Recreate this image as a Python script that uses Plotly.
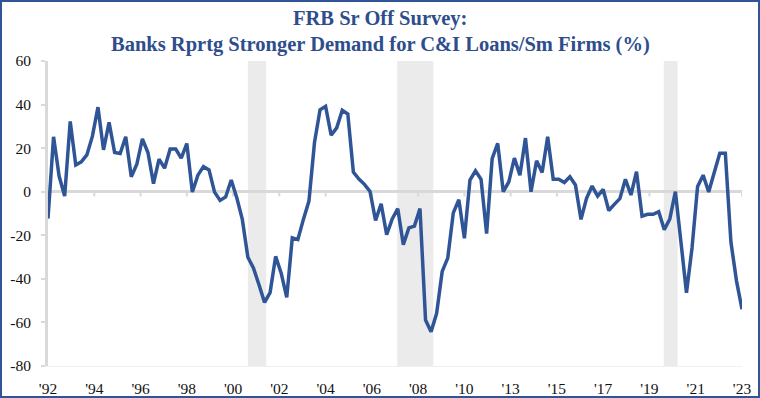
import plotly.graph_objects as go

# Net % of banks reporting stronger demand for C&I loans from small firms, quarterly 1992Q1 .. 2023Q2
demand = [
    -12.3, 25.2, 7.2, -2.0, 32.3, 12.3, 13.7, 16.9, 25.5, 38.8,
    19.2, 31.8, 18.0, 17.5, 25.2, 6.9, 12.6, 24.2, 18.0, 3.7,
    15.0, 10.8, 19.6, 19.6, 15.4, 22.1, -0.1, 7.6, 11.5, 10.0,
    -0.2, -4.0, -2.4, 5.4, -2.8, -12.7, -30.1, -35.0, -42.7, -50.8,
    -46.3, -29.7, -37.4, -48.5, -21.2, -22.0, -12.7, -4.3, 22.6, 37.6,
    39.2, 25.9, 29.3, 37.4, 35.7, 9.0, 5.8, 3.4, 0.1, -13.2,
    -5.5, -19.7, -12.5, -7.8, -24.3, -16.6, -15.8, -7.7, -58.9, -64.3,
    -55.8, -36.6, -30.5, -9.7, -3.7, -21.4, 5.3, 9.6, 5.7, -19.2,
    15.2, 22.2, 0.0, 4.5, 15.4, 7.6, 24.6, 0.0, 14.2, 8.8,
    25.2, 5.7, 5.7, 4.2, 6.9, 3.1, -12.7, -3.0, 2.6, -2.0,
    1.1, -8.6, -5.8, -3.2, 5.7, -1.5, 9.2, -11.2, -10.4, -10.4,
    -9.2, -17.4, -12.5, 0.0, -23.0, -46.4, -25.8, 2.4, 7.6, -0.1,
    8.8, 17.7, 17.7, -23.0, -40.8, -53.9,
]
quarter_index = list(range(len(demand)))

# Axis labels (one label every 25 months, i.e. 25/3 quarters)
tick_labels = ["'92", "'94", "'96", "'98", "'00", "'02", "'04", "'06", "'08", "'10",
               "'13", "'15", "'17", "'19", "'21", "'23"]
tick_step_quarters = 25 / 3
tick_positions = [i * tick_step_quarters for i in range(len(tick_labels))]

y_ticks = [60, 40, 20, 0, -20, -40, -60, -80]

# Recessions (in quarter-index units)
rec_start = [36.0, 62.9, 110.9]
rec_end = [39.3, 69.4, 113.4]

title_lines = ["FRB Sr Off Survey:", "Banks Rprtg Stronger Demand for C&I Loans/Sm Firms (%)"]

W, H = 760, 398
L, R, T, B = 48, 18, 61, 32
pw, ph = W - L - R, H - T - B

LINE_BLUE = "#2f5597"
TITLE_BLUE = "#2e4d8c"
GRAY = "#d9d9d9"
SERIF = "Liberation Serif"

px = lambda v: (v - L) / pw
py = lambda v: (H - B - v) / ph

fig = go.Figure()
fig.add_trace(go.Scatter(
    x=quarter_index, y=demand, mode="lines",
    line=dict(color=LINE_BLUE, width=3.5),
    hoverinfo="x+y", showlegend=False,
))

shapes = []
for s, e in zip(rec_start, rec_end):
    shapes.append(dict(type="rect", xref="x", yref="y", x0=s, x1=e, y0=-80, y1=60,
                       fillcolor="#ebebeb", line=dict(width=0), layer="below"))
# small tick marks hanging under the zero line
for tv in tick_positions[1:]:
    shapes.append(dict(type="line", xref="x", yref="y", x0=tv, x1=tv, y0=0, y1=-2.2,
                       line=dict(color=GRAY, width=2), layer="below"))
# outer border
shapes.append(dict(type="rect", xref="paper", yref="paper",
                   x0=px(1), x1=px(759), y0=py(397), y1=py(1),
                   line=dict(color="#2f5597", width=2), fillcolor="rgba(0,0,0,0)", layer="above"))

annotations = []
for txt, ypix in zip(title_lines, [19, 44]):
    annotations.append(dict(
        text=txt, xref="paper", yref="paper", x=px(380), y=py(ypix),
        xanchor="center", yanchor="middle", showarrow=False,
        font=dict(family=SERIF, size=20.5, color=TITLE_BLUE, weight="bold"),
    ))

fig.update_layout(
    width=W, height=H,
    margin=dict(l=L, r=R, t=T, b=B, pad=0, autoexpand=False),
    paper_bgcolor="white", plot_bgcolor="white",
    shapes=shapes, annotations=annotations,
    xaxis=dict(
        range=[0, len(demand) - 1],
        tickmode="array", tickvals=tick_positions, ticktext=tick_labels,
        ticks="", showgrid=False, zeroline=False,
        showline=True, linecolor="#f0f0f0", linewidth=1,
        tickfont=dict(family=SERIF, size=15.5, color="#111111"),
        ticklabelstandoff=8, fixedrange=True, automargin=False,
    ),
    yaxis=dict(
        range=[-80, 60],
        tickmode="array", tickvals=y_ticks, ticktext=[str(v) for v in y_ticks],
        ticks="outside", ticklen=4, tickwidth=2, tickcolor=GRAY,
        showgrid=False,
        zeroline=True, zerolinecolor=GRAY, zerolinewidth=3,
        showline=True, linecolor=GRAY, linewidth=3,
        tickfont=dict(family=SERIF, size=15.5, color="#111111"),
        ticklabelstandoff=7, fixedrange=True, automargin=False,
    ),
)

fig.write_html("out.html", config={"displayModeBar": False},
               post_script="document.body.style.margin='0px';")
